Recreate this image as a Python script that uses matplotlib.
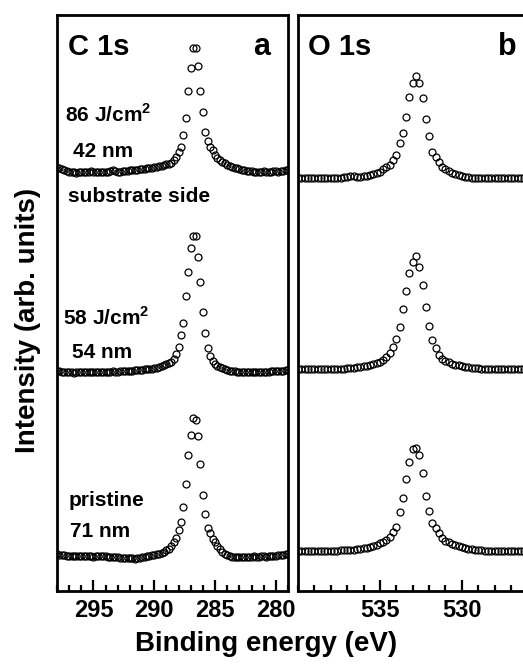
import matplotlib
matplotlib.use("Agg")
import matplotlib.pyplot as plt
from matplotlib.ticker import FixedLocator, MultipleLocator

plt.rcParams['font.family'] = ['Liberation Sans', 'DejaVu Sans']
plt.rcParams['font.weight'] = 'bold'
plt.rcParams['mathtext.fontset'] = 'custom'
plt.rcParams['mathtext.rm'] = 'Liberation Sans:bold'
plt.rcParams['mathtext.bf'] = 'Liberation Sans:bold'

# ---------------- data ----------------
# C 1s binding energies (eV)
c1s_energy = [
    298.0, 297.8, 297.6, 297.4, 297.2, 297.0, 296.8, 296.6, 296.4, 296.2,
    296.0, 295.8, 295.6, 295.4, 295.2, 295.0, 294.8, 294.6, 294.4, 294.2,
    294.0, 293.8, 293.6, 293.4, 293.2, 293.0, 292.8, 292.6, 292.4, 292.2,
    292.0, 291.8, 291.6, 291.4, 291.2, 291.0, 290.8, 290.6, 290.4, 290.2,
    290.0, 289.8, 289.6, 289.4, 289.2, 289.0, 288.8, 288.6, 288.4, 288.2,
    288.0, 287.8, 287.6, 287.4, 287.2, 287.0, 286.8, 286.6, 286.4, 286.2,
    286.0, 285.8, 285.6, 285.4, 285.2, 285.0, 284.8, 284.6, 284.4, 284.2,
    284.0, 283.8, 283.6, 283.4, 283.2, 283.0, 282.8, 282.6, 282.4, 282.2,
    282.0, 281.8, 281.6, 281.4, 281.2, 281.0, 280.8, 280.6, 280.4, 280.2,
    280.0, 279.8, 279.6, 279.4, 279.2, 279.0]

c1s_86J = [
    4, 4, 3, 2, 1, 0.5, 0, 0, -0.5, 0,
    0.5, 0, 0, 0.5, 1, 0.5, 0, 0, 0.5, 0,
    0, 0.5, 1.5, 2, 1, 0.5, 0.5, 1, 1, 1.5,
    2, 2, 2.5, 2.5, 3, 3, 3.5, 4, 4, 4.5,
    5, 5, 6, 6.5, 7, 8, 8.5, 9.5, 12, 15,
    20, 25, 37, 54, 81, 104, 124, 124, 106, 81,
    60, 40, 31, 25, 22, 17, 14, 12, 10, 9,
    7.5, 6.5, 5.5, 4.5, 4, 3, 2.5, 2, 1.5, 1,
    1, 0.5, 0.5, 0, 0.5, 1, 0.5, 0, 0.5, 1,
    1, 0.5, 1, 1.5, 2, 2.5]

c1s_58J = [
    1, 1, 0.5, 0, 0, 0.5, 0, -0.5, 0, 0,
    0.5, 0, 0, 0.5, 0, 0, 0.5, 0, 0, 0.5,
    0, 0, 0.5, 1, 0.5, 0.5, 1, 1, 1, 1.5,
    1.5, 1.5, 2, 2, 2, 2.5, 3, 3, 3.5, 3.5,
    4, 4.5, 5, 6, 7, 8, 9, 10, 13.5, 18.5,
    25, 37, 49, 76, 100, 124, 136, 136, 115, 90,
    60, 39, 24, 16, 11, 8.5, 6.5, 5, 3.7, 3,
    2, 1.5, 1, 1, 0.5, 0.5, 0, 0.5, 0.5, 0,
    0, 0.5, 0, 0, 0.5, 0.5, 0, 0.5, 1, 1,
    1, 1, 1.5, 1.5, 2, 2.5]

c1s_pristine = [
    2, 1.5, 1, 1, 0.5, 0.5, 0, 0, 0.5, 0.5,
    0, 0, 0.5, 0, 0, -0.5, 0, 0, 0.5, 0,
    0, -0.5, -1, -1, -0.5, -1, -1.5, -2, -2, -1.5,
    -1.5, -2, -2.5, -2, -1.5, -1, -0.5, 0, 0.5, 1,
    1.5, 2, 2.5, 3.5, 4.5, 6, 7.5, 10, 14, 18,
    26, 34, 49, 72, 101, 121, 138, 136, 120, 92,
    61, 42, 28, 23, 17, 14, 10, 7, 4.5, 2.5,
    1, 0, -0.5, -0.5, -1, -1, -0.5, -0.5, -1, -0.5,
    -0.5, 0, -0.5, -0.5, 0, 0, -0.5, 0, 0, 0.5,
    0.5, 1, 1, 1.5, 2, 2.5]

# O 1s binding energies (eV)
o1s_energy = [
    540.0, 539.8, 539.6, 539.4, 539.2, 539.0, 538.8, 538.6, 538.4, 538.2,
    538.0, 537.8, 537.6, 537.4, 537.2, 537.0, 536.8, 536.6, 536.4, 536.2,
    536.0, 535.8, 535.6, 535.4, 535.2, 535.0, 534.8, 534.6, 534.4, 534.2,
    534.0, 533.8, 533.6, 533.4, 533.2, 533.0, 532.8, 532.6, 532.4, 532.2,
    532.0, 531.8, 531.6, 531.4, 531.2, 531.0, 530.8, 530.6, 530.4, 530.2,
    530.0, 529.8, 529.6, 529.4, 529.2, 529.0, 528.8, 528.6, 528.4, 528.2,
    528.0, 527.8, 527.6, 527.4, 527.2, 527.0, 526.8, 526.6, 526.4, 526.2,
    526.0]

o1s_86J = [
    0, 0.5, 0, 0, 0.5, 0, 0, 0.5, 0, 0,
    0.5, 0, 0, 0.5, 1, 1.5, 2.5, 2, 1.5, 1.5,
    2, 2.5, 3, 4.5, 5.5, 6, 9, 11, 13, 18,
    23, 35, 45, 61, 81, 95, 102, 95, 80, 59,
    42, 26, 21, 16, 11, 9, 7, 5, 4, 3,
    2, 1.5, 1, 0.5, 0.5, 0, 0, 0.5, 0, 0,
    0, 0.5, 0, 0, 0.5, 0, 0.5, 0.5, 0, 0.5,
    0.5]

o1s_58J = [
    0.5, 0, 0, 0.5, 0, 0, 0.5, 0, 0, 0,
    0.5, 0.5, 0, 0.5, 0.5, 1, 1, 1.5, 2, 2.5,
    3, 3.5, 4, 5, 6, 7, 9, 12, 16, 22,
    30, 42, 60, 78, 96, 107, 113, 102, 84, 62,
    43, 29, 21, 14, 10, 8, 7, 5.5, 4.5, 4,
    3, 2.5, 2, 1.5, 1, 1, 0.5, 0.5, 0, 0.5,
    0, 0, 0.5, 0, 0, 0.5, 0, 0, 0.5, 0,
    0]

o1s_pristine = [
    0.5, 0.5, 0, 0, 0.5, 0, 0, 0.5, 0.5, 0,
    0.5, 0.5, 0.5, 1, 1, 1, 1.5, 1.5, 2, 2.5,
    3, 3.5, 4.3, 5.5, 6.5, 8, 9, 11, 14, 19,
    24, 39, 53, 72, 89, 102, 103, 96, 78, 55,
    40, 28, 23, 18, 13, 10.5, 9, 7.5, 6, 5,
    4, 3, 2.5, 2, 1.5, 1, 1, 0.5, 0.5, 0,
    0.5, 0.5, 0, 0, 0.5, 0, 0, 0.5, 0.5, 0,
    0.5]

# vertical offsets of the stacked spectra (arb. units)
c1s_offsets = [419, 219, 35]
o1s_offsets = [413, 222, 40]

c1s_ticks = [295, 290, 285, 280]
o1s_ticks = [535, 530]

# ---------------- figure ----------------
W, H = 523, 664
fig = plt.figure(figsize=(W / 100, H / 100), dpi=100)

def px_axes(x0, x1, y0, y1):
    return fig.add_axes([x0 / W, 1 - y1 / H, (x1 - x0) / W, (y1 - y0) / H])

axA = px_axes(57, 288, 15, 591)
axB = px_axes(298, 529, 15, 591)

mk = dict(ls='none', marker='o', ms=5.0, mfc='none', mec='black', mew=0.9)

for ys, off in zip([c1s_86J, c1s_58J, c1s_pristine], c1s_offsets):
    axA.plot(c1s_energy, [v + off for v in ys], clip_on=True, **mk)
for ys, off in zip([o1s_86J, o1s_58J, o1s_pristine], o1s_offsets):
    axB.plot(o1s_energy, [v + off for v in ys], clip_on=True, **mk)

axA.set_xlim(298, 279)
axB.set_xlim(540, 525.9)
for ax in (axA, axB):
    ax.set_ylim(0, 576)
    ax.set_yticks([])
    for sp in ax.spines.values():
        sp.set_linewidth(2)
    ax.xaxis.set_minor_locator(MultipleLocator(1))
    ax.tick_params(axis='x', which='major', direction='in', length=8, width=1.6,
                   labelsize=17, pad=6, top=False)
    ax.tick_params(axis='x', which='minor', direction='in', length=4.5, width=1.6,
                   top=False)

axA.xaxis.set_major_locator(FixedLocator(c1s_ticks))
axB.xaxis.set_major_locator(FixedLocator(o1s_ticks))
for ax in (axA, axB):
    for lab in ax.get_xticklabels():
        lab.set_fontweight('bold')

ann = 15
tkw = dict(transform=axA.transAxes, fontweight='bold', va='baseline')
axA.text(0.048, 0.9306, 'C 1s', fontsize=21, **tkw)
axA.text(0.922, 0.9306, 'a', fontsize=22, ha='right', **tkw)
axA.text(0.035, 0.814, r'86 J/cm$^{\mathbf{2}}$', fontsize=ann, **tkw)
axA.text(0.069, 0.7535, '42 nm', fontsize=ann, **tkw)
axA.text(0.048, 0.676, 'substrate side', fontsize=ann, **tkw)
axA.text(0.026, 0.4618, r'58 J/cm$^{\mathbf{2}}$', fontsize=ann, **tkw)
axA.text(0.065, 0.4045, '54 nm', fontsize=ann, **tkw)
axA.text(0.048, 0.1476, 'pristine', fontsize=ann, **tkw)
axA.text(0.056, 0.0943, '71 nm', fontsize=ann, **tkw)

tkwB = dict(transform=axB.transAxes, fontweight='bold', va='baseline')
axB.text(0.043, 0.9306, 'O 1s', fontsize=21, **tkwB)
axB.text(0.948, 0.9306, 'b', fontsize=22, ha='right', **tkwB)

fig.text(28 / W, 1 - 320 / H, 'Intensity (arb. units)', rotation=90,
         ha='center', va='center', fontsize=20, fontweight='bold')
fig.text(266 / W, 1 - 651 / H, 'Binding energy (eV)', ha='center',
         va='baseline', fontsize=20, fontweight='bold')

fig.savefig('out.png', dpi=100)
